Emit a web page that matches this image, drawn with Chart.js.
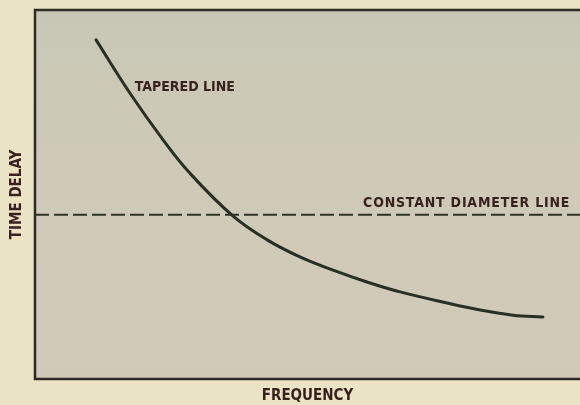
<!DOCTYPE html>
<html lang="en">
<head>
  <meta charset="UTF-8">
  <title>Time Delay vs Frequency</title>
  <style>
    html, body { margin: 0; padding: 0; background: #ebe3c6; overflow: hidden; }
    #wrap { width: 580px; height: 405px; position: relative; }
  </style>
</head>
<body>
  <div id="wrap"><canvas id="delayChart" width="580" height="405"></canvas></div>

  <script src="https://cdn.jsdelivr.net/npm/chart.js"></script>
  <script>
    // frequency / time delay, arbitrary units (0..10 on both axes)
    const taperedFreq  = [1.12, 1.74, 2.35, 2.84, 3.63, 4.26, 4.86, 5.47, 6.09, 6.70, 7.56, 8.17, 8.77, 9.32];
    const taperedDelay = [9.19, 7.75, 6.48, 5.58, 4.42, 3.77, 3.31, 2.95, 2.63, 2.36, 2.06, 1.87, 1.73, 1.68];
    const constantFreq  = [0, 10];
    const constantDelay = [4.45, 4.45];
    const curveLabels = ['TAPERED LINE', 'CONSTANT DIAMETER LINE'];
    const labelSpots = [{ x: 1.83, y: 7.91 }, { x: 6.02, y: 4.77 }];
    const labelSpacing = ['0px', '0.8px'];

    const ink = '#2d2b22';
    const textInk = '#38221d';
    const condensed = '"DejaVu Sans Condensed", "DejaVu Sans", sans-serif';

    const toPoints = (xs, ys) => xs.map((x, i) => ({ x: x, y: ys[i] }));

    // paper background inside the frame plus the three drawn frame edges
    const plotFrame = {
      id: 'plotFrame',
      beforeDraw(chart) {
        const { ctx, chartArea: a } = chart;
        ctx.save();
        const g = ctx.createLinearGradient(0, a.top, 0, a.bottom);
        g.addColorStop(0, '#c8c7b5');
        g.addColorStop(0.5, '#cfcab7');
        g.addColorStop(1, '#d1c9b8');
        ctx.fillStyle = g;
        ctx.fillRect(a.left, a.top, a.right - a.left + 4, a.bottom - a.top);
        ctx.strokeStyle = ink;
        ctx.lineWidth = 2.5;
        ctx.beginPath();
        ctx.moveTo(a.right + 4, a.top);
        ctx.lineTo(a.left, a.top);
        ctx.lineTo(a.left, a.bottom);
        ctx.lineTo(a.right + 4, a.bottom);
        ctx.stroke();
        ctx.restore();
      }
    };

    // curve names written beside the lines
    const curveNames = {
      id: 'curveNames',
      afterDatasetsDraw(chart) {
        const { ctx, scales } = chart;
        ctx.save();
        ctx.font = 'bold 14px ' + condensed;
        ctx.fillStyle = textInk;
        ctx.textAlign = 'left';
        ctx.textBaseline = 'middle';
        curveLabels.forEach((t, i) => {
          ctx.letterSpacing = labelSpacing[i];
          ctx.fillText(t, scales.x.getPixelForValue(labelSpots[i].x), scales.y.getPixelForValue(labelSpots[i].y));
        });
        ctx.restore();
      }
    };

    new Chart(document.getElementById('delayChart'), {
      type: 'scatter',
      data: {
        datasets: [
          {
            label: curveLabels[0],
            data: toPoints(taperedFreq, taperedDelay),
            showLine: true,
            borderColor: '#283024',
            borderWidth: 3,
            pointRadius: 0,
            tension: 0.4,
            borderCapStyle: 'round'
          },
          {
            label: curveLabels[1],
            data: toPoints(constantFreq, constantDelay),
            showLine: true,
            borderColor: '#2e3326',
            borderWidth: 2,
            borderDash: [14, 5],
            pointRadius: 0
          }
        ]
      },
      options: {
        responsive: false,
        animation: false,
        layout: { padding: { top: 10, right: 0, left: 0, bottom: 0 } },
        plugins: { legend: { display: false }, tooltip: { enabled: false } },
        scales: {
          x: {
            type: 'linear', min: 0, max: 10,
            grid: { display: false },
            border: { display: false },
            ticks: { display: false },
            title: {
              display: true, text: 'FREQUENCY', color: textInk,
              font: { family: condensed, size: 15, weight: 'bold' },
              padding: { top: 9, bottom: 0 }
            },
            afterFit(s) { s.height = 26; }
          },
          y: {
            type: 'linear', min: 0, max: 10,
            grid: { display: false },
            border: { display: false },
            ticks: { display: false },
            title: {
              display: true, text: 'TIME DELAY', color: textInk,
              font: { family: condensed, size: 15, weight: 'bold' },
              padding: { top: 8, bottom: 0 }
            },
            afterFit(s) { s.width = 35; }
          }
        }
      },
      plugins: [plotFrame, curveNames]
    });
  </script>
</body>
</html>
